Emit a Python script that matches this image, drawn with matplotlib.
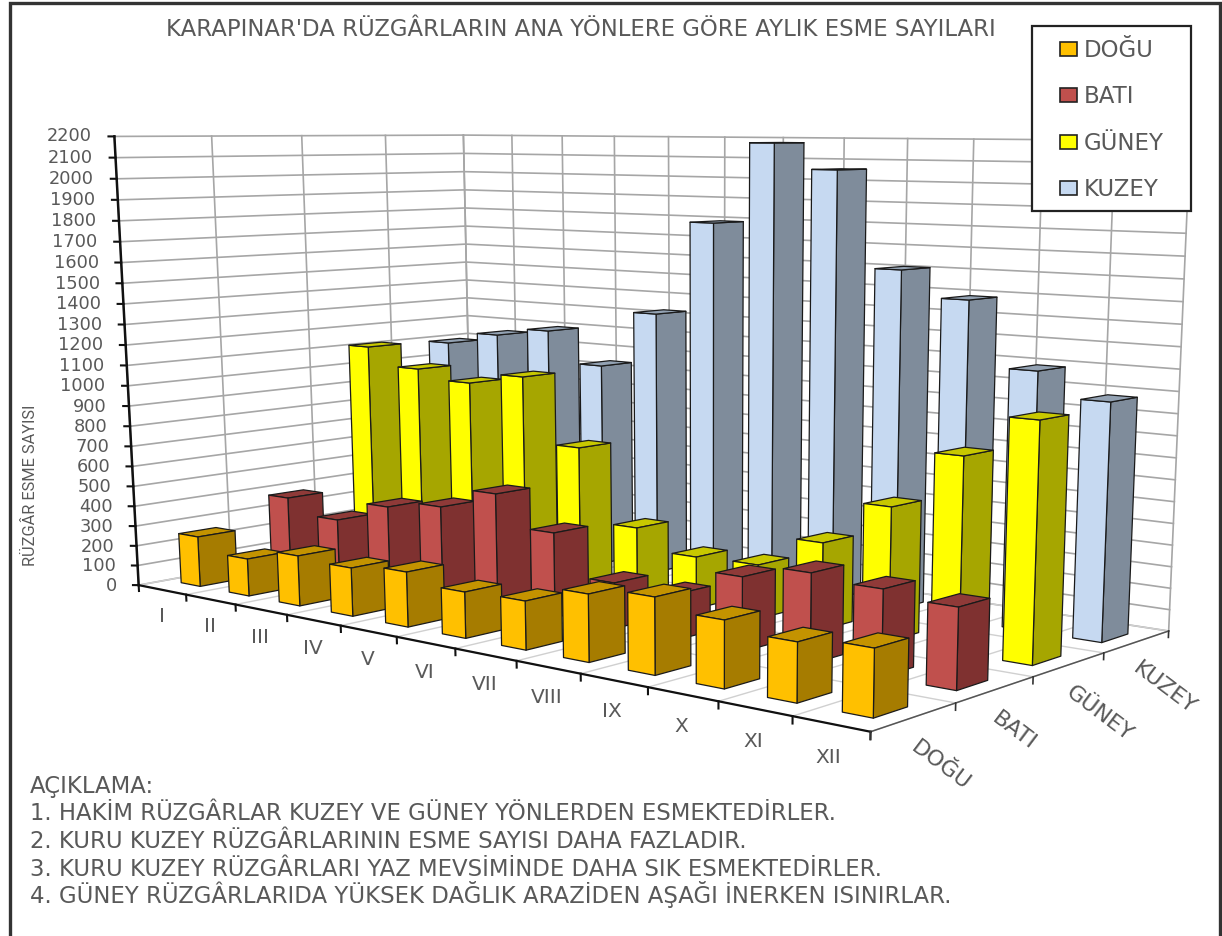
import numpy as np
import matplotlib
matplotlib.use("Agg")
import matplotlib.pyplot as plt
from matplotlib.patches import Patch, Rectangle

W, H = 1222, 936
MONTHS = ["I", "II", "III", "IV", "V", "VI", "VII", "VIII", "IX", "X", "XI", "XII"]
SERIES = ["DOĞU", "BATI", "GÜNEY", "KUZEY"]
Z_TICKS = list(range(0, 2201, 100))

DOGU = [251, 184, 244, 231, 258, 213, 221, 301, 337, 290, 252, 281]
BATI = [375, 301, 407, 447, 549, 403, 213, 210, 335, 399, 377, 350]
GUNEY = [1110, 1019, 973, 1030, 707, 349, 250, 257, 405, 610, 872, 1058]
KUZEY = [1090, 1155, 1198, 1039, 1326, 1790, 2178, 2057, 1608, 1488, 1191, 1081]
VALUES = [DOGU, BATI, GUNEY, KUZEY]

FRONT = ["#FFC000", "#C0504D", "#FFFF00", "#C6D9F1"]
SIDE = ["#A67C00", "#7F3130", "#A6A600", "#7F8C9B"]
TOP = ["#C49300", "#8F3A38", "#C8C800", "#93A2B3"]
TEXT = "#595959"
GRID = "#A6A6A6"
FLOOR = "#D0D0D0"
INK = "#1A1A1A"
NONE = (0, 0, 0, 0)

# scene anchors for the camera: (month position, series position, value) -> pixel
world_px = []
for i, (u, v) in enumerate([(462.5, 135), (511, 135), (562, 135), (615, 135.5), (668, 136.5), (725, 137),
                            (783, 137.5), (844, 138), (908, 138.5), (975, 139.3), (1043, 140), (1113, 140.5),
                            (1191, 141)]):
    world_px.append((i, 4, 2200, u, v))
for i, (u, v) in enumerate([(138.6, 585), (186, 594), (235, 604), (287.5, 614), (340, 625), (396, 636),
                            (455, 648), (517, 660), (581, 674), (648, 688), (719, 703), (793, 717), (870, 733)]):
    world_px.append((i, 0, 0, u, v))
for j, (u, v) in enumerate([(956, 702), (1033, 677), (1104, 652), (1168, 630)]):
    world_px.append((12, j + 1, 0, u, v))
for j, (u, v) in enumerate([(114, 137), (212.5, 136.7), (302, 136), (386, 135.5)]):
    world_px.append((0, j, 2200, u, v))
world_px.append((0, 4, 0, 473, 527))
world_px = np.array(world_px, float)


def fit_camera(rows):
    """Least-squares perspective camera (3x4) from world/pixel anchors."""
    sc = np.array([12.0, 4.0, 2200.0])
    A = []
    for x, y, z, u, v in rows:
        X = [x / sc[0], y / sc[1], z / sc[2], 1.0]
        u, v = u / 1000, v / 1000
        A.append(X + [0, 0, 0, 0] + [-u * c for c in X])
        A.append([0, 0, 0, 0] + X + [-v * c for c in X])
    _, _, vt = np.linalg.svd(np.array(A))
    P = vt[-1].reshape(3, 4)
    P = np.diag([1000.0, 1000.0, 1.0]) @ P @ np.diag([1 / sc[0], 1 / sc[1], 1 / sc[2], 1.0])
    return P / P[2, 3]


CAM = fit_camera(world_px)


def project(x, y, z):
    q = CAM @ np.array([x, y, z, 1.0])
    return q[0] / q[2], q[1] / q[2]


def fx(px):
    return px / W


def fy(py):
    return 1 - py / H


fig = plt.figure(figsize=(W / 100, H / 100), dpi=100, facecolor="white")
ax = fig.add_subplot(projection="3d", computed_zorder=False)
ax.set_position([0, 0, 1, 1])
ax.apply_aspect = lambda position=None: None
ax.set_axis_off()


def camera_matrix():
    to_axes = ax.transData.inverted().get_matrix()
    flip = np.array([[1.0, 0, 0], [0, -1.0, H], [0, 0, 1.0]])
    Q = to_axes @ flip @ CAM
    return np.vstack([Q[0], Q[1], [0, 0, 0, -1.0], Q[2]])


ax.get_proj = camera_matrix

# walls and floor
for z in Z_TICKS:
    ax.plot([0, 0, 12], [0, 4, 4], [z, z, z], color=GRID, lw=1.2, zorder=1)
for i in range(13):
    ax.plot([i, i], [4, 4], [0, 2200], color=GRID, lw=1.2, zorder=1)
    ax.plot([i, i], [0, 4], [0, 0], color=FLOOR, lw=1, zorder=1)
for j in range(5):
    ax.plot([0, 0], [j, j], [0, 2200], color=GRID, lw=1.2, zorder=1)
    ax.plot([0, 12], [j, j], [0, 0], color=FLOOR, lw=1, zorder=1)

# axis lines with their ticks
ax.plot([0, 0], [0, 0], [0, 2200], color="#111111", lw=1.8, zorder=2)
ax.plot([0, 12], [0, 0], [0, 0], color="#111111", lw=1.6, zorder=2)
ax.plot([12, 12], [0, 4], [0, 0], color="#555555", lw=1.1, zorder=2)
for z in Z_TICKS:
    ax.plot([0, -0.06], [0, -0.03], [z, z], color="#111111", lw=1.5, zorder=2)
for i in range(13):
    ax.plot([i, i], [0, 0], [0, -30], color="#111111", lw=1.5, zorder=2)
for j in range(5):
    ax.plot([12, 12], [j, j], [0, -30], color="#333333", lw=1.2, zorder=2)

# bars: back series first, and from first month to last inside each series
order = 3
for j in range(3, -1, -1):
    for i in range(12):
        order += 1
        faces = [NONE, TOP[j], FRONT[j], NONE, NONE, SIDE[j]]
        edges = [NONE, INK, INK, NONE, NONE, INK]
        ax.bar3d(i + 0.3, j + 0.3, 0, 0.4, 0.4, VALUES[j][i], color=faces, edgecolor=edges,
                 linewidth=0.9, shade=False, zorder=order)

# tick labels placed through the same camera
for z in Z_TICKS:
    u, v = project(-0.173, -0.143, z)
    fig.text(fx(u), fy(v), str(z), ha="right", va="center", color=TEXT, fontsize=12.8)
for i, m in enumerate(MONTHS):
    u, v = project(i + 0.5, 0, -135)
    fig.text(fx(u - 2), fy(v), m, ha="center", va="center", color=TEXT, fontsize=14.5)
for j, s in enumerate(SERIES):
    u, v = project(12, j + 0.5, -115)
    fig.text(fx(u), fy(v), s, ha="left", va="center", rotation=-37, rotation_mode="anchor",
             color=TEXT, fontsize=16)

fig.text(fx(581), fy(36.5), "KARAPINAR'DA RÜZGÂRLARIN ANA YÖNLERE GÖRE AYLIK ESME SAYILARI",
         ha="center", va="baseline", color=TEXT, fontsize=16.4)
fig.text(fx(30), fy(485), "RÜZGÂR ESME SAYISI", rotation=90, ha="center", va="center", color=TEXT,
         fontsize=11.8, family="Roboto")

NOTES = ["AÇIKLAMA:",
         "1. HAKİM RÜZGÂRLAR KUZEY VE GÜNEY YÖNLERDEN ESMEKTEDİRLER.",
         "2. KURU KUZEY RÜZGÂRLARININ ESME SAYISI DAHA FAZLADIR.",
         "3. KURU KUZEY RÜZGÂRLARI YAZ MEVSİMİNDE DAHA SIK ESMEKTEDİRLER.",
         "4. GÜNEY RÜZGÂRLARIDA YÜKSEK DAĞLIK ARAZİDEN AŞAĞI İNERKEN ISINIRLAR."]
for n, line in enumerate(NOTES):
    fig.text(fx(30), fy(792.5 + 27.7 * n), line, ha="left", va="baseline", color=TEXT, fontsize=16.4)

# chart frame and legend box
fig.add_artist(Rectangle((fx(10), fy(960)), fx(1210), fy(3) - fy(960), transform=fig.transFigure,
                         fill=False, edgecolor="#333333", lw=2.4, zorder=10))
fig.add_artist(Rectangle((fx(1032), fy(211)), fx(159), fy(26) - fy(211), transform=fig.transFigure,
                         facecolor="white", edgecolor="#222222", lw=1.6, zorder=4))
handles = [Patch(facecolor=c, edgecolor="#222222", lw=1.2) for c in FRONT]
fig.legend(handles, SERIES, loc="upper left", bbox_to_anchor=(fx(1060), fy(39)), frameon=False,
           fontsize=16.5, labelcolor=TEXT, handlelength=0.74, handleheight=0.57, handletextpad=0.3,
           labelspacing=1.02, borderpad=0, borderaxespad=0).set_zorder(6)

fig.savefig("out.png", dpi=100)
